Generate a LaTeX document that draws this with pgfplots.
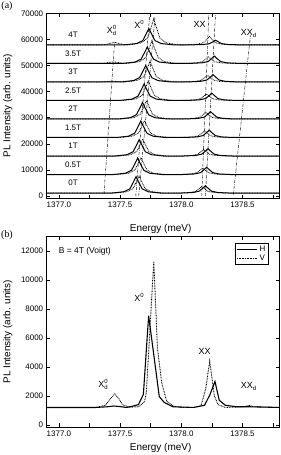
\documentclass[border=0pt]{standalone}
\usepackage{fontspec}
\setmainfont{Liberation Sans}
\newfontfamily\seriffont{Liberation Serif}
\usepackage{pgfplots}
\pgfplotsset{compat=1.18}
\newcommand\smallidx{\fontsize{6}{6}\selectfont}
\newcommand\Xd{X\rlap{\raisebox{3.8bp}{\smallidx 0}}\raisebox{-2.4bp}{\smallidx d}}
\newcommand\Xz{X\raisebox{3.8bp}{\smallidx 0}}
\newcommand\XXd{XX\raisebox{-2.4bp}{\smallidx d}}
\begin{document}
\begin{tikzpicture}[x=1bp,y=1bp]
\path[use as bounding box] (0,0) rectangle (280,455);
\pgfplotsset{
  common/.style={
    scale only axis, width=232.5bp,
    xmin=1376.9, xmax=1378.8,
    xtick={1377,1377.5,1378,1378.5},
    minor xtick={1377.25,1377.75,1378.25,1378.75},
    /pgf/number format/1000 sep={},
    /pgf/number format/assume math mode=true,
    xticklabel style={/pgf/number format/fixed,/pgf/number format/fixed zerofill,/pgf/number format/precision=1},
    scaled ticks=false,
    tick label style={font=\fontsize{8}{9}\selectfont},
    major tick length=3.5bp, minor tick length=3.5bp,
    tick style={black, line width=0.5pt},
    axis line style={line width=0.6pt},
    every axis y label/.style={at={(axis description cs:-0.167,0.5)}, rotate=90, anchor=center, font=\fontsize{10}{12}\selectfont},
    ylabel={PL Intensity (arb. units)},
    xlabel={Energy (meV)},
  },
  H/.style={black, line width=1.0pt},
  V/.style={black, line width=0.8pt, dash pattern=on 0.8pt off 0.8pt},
  G/.style={black, line width=0.45pt, dash pattern=on 3pt off 1.2pt on 0.5pt off 1.2pt},
}
% ---------------- (a) ----------------
\begin{axis}[common, at={(46.7bp,256.7bp)}, anchor=south west, height=185bp,
  ymin=-900, ymax=70000, ytick={0,10000,20000,30000,40000,50000,60000,70000},
  every axis x label/.style={at={(axis description cs:0.49,-0.166)}, anchor=center, font=\fontsize{10}{12}\selectfont}]
% H spectra
\addplot[H] coordinates {(1376.9,1100)(1377.43,1100)(1377.53,1600)(1377.58,2740)(1377.61,5450)(1377.63,7400)(1377.65,5450)(1377.68,2740)(1377.73,1600)(1377.83,1100)(1377.997,1100)(1378.097,1320)(1378.147,1830)(1378.177,3030)(1378.197,3900)(1378.217,3030)(1378.247,1830)(1378.297,1320)(1378.397,1100)(1378.8,1100)};
\addplot[H] coordinates {(1376.9,8200)(1377.443,8200)(1377.543,8700)(1377.593,9840)(1377.623,12550)(1377.643,14500)(1377.663,12550)(1377.693,9840)(1377.743,8700)(1377.843,8200)(1378.007,8200)(1378.107,8420)(1378.157,8930)(1378.187,10130)(1378.207,11000)(1378.227,10130)(1378.257,8930)(1378.307,8420)(1378.407,8200)(1378.8,8200)};
\addplot[H] coordinates {(1376.9,15300)(1377.456,15300)(1377.556,15800)(1377.606,16940)(1377.636,19650)(1377.656,21600)(1377.676,19650)(1377.706,16940)(1377.756,15800)(1377.856,15300)(1378.018,15300)(1378.118,15520)(1378.168,16030)(1378.198,17230)(1378.218,18100)(1378.238,17230)(1378.268,16030)(1378.318,15520)(1378.418,15300)(1378.8,15300)};
\addplot[H] coordinates {(1376.9,22400)(1377.469,22400)(1377.569,22900)(1377.619,24040)(1377.649,26750)(1377.669,28700)(1377.689,26750)(1377.719,24040)(1377.769,22900)(1377.869,22400)(1378.028,22400)(1378.128,22620)(1378.178,23130)(1378.208,24330)(1378.228,25200)(1378.248,24330)(1378.278,23130)(1378.328,22620)(1378.428,22400)(1378.8,22400)};
\addplot[H] coordinates {(1376.9,29500)(1377.483,29500)(1377.583,30000)(1377.633,31140)(1377.663,33850)(1377.683,35800)(1377.703,33850)(1377.733,31140)(1377.783,30000)(1377.883,29500)(1378.039,29500)(1378.139,29720)(1378.189,30230)(1378.219,31430)(1378.239,32300)(1378.259,31430)(1378.289,30230)(1378.339,29720)(1378.439,29500)(1378.8,29500)};
\addplot[H] coordinates {(1376.9,36600)(1377.496,36600)(1377.596,37100)(1377.646,38240)(1377.676,40950)(1377.696,42900)(1377.716,40950)(1377.746,38240)(1377.796,37100)(1377.896,36600)(1378.049,36600)(1378.149,36820)(1378.199,37330)(1378.229,38530)(1378.249,39400)(1378.269,38530)(1378.299,37330)(1378.349,36820)(1378.449,36600)(1378.8,36600)};
\addplot[H] coordinates {(1376.9,43700)(1377.509,43700)(1377.609,44200)(1377.659,45340)(1377.689,48050)(1377.709,50000)(1377.729,48050)(1377.759,45340)(1377.809,44200)(1377.909,43700)(1378.059,43700)(1378.159,43920)(1378.209,44430)(1378.239,45630)(1378.259,46500)(1378.279,45630)(1378.309,44430)(1378.359,43920)(1378.459,43700)(1378.8,43700)};
\addplot[H] coordinates {(1376.9,50800)(1377.522,50800)(1377.622,51300)(1377.672,52440)(1377.702,55150)(1377.722,57100)(1377.742,55150)(1377.772,52440)(1377.822,51300)(1377.922,50800)(1378.07,50800)(1378.17,51020)(1378.22,51530)(1378.25,52730)(1378.27,53600)(1378.29,52730)(1378.32,51530)(1378.37,51020)(1378.47,50800)(1378.8,50800)};
\addplot[H] coordinates {(1376.9,57900)(1377.535,57900)(1377.635,58400)(1377.685,59540)(1377.715,62250)(1377.735,64200)(1377.755,62250)(1377.785,59540)(1377.835,58400)(1377.935,57900)(1378.08,57900)(1378.18,58040)(1378.23,58370)(1378.26,59140)(1378.28,59700)(1378.30,59140)(1378.33,58370)(1378.38,58040)(1378.48,57900)(1378.8,57900)};
% V spectra
\addplot[V] coordinates {(1376.9,1100)(1377.455,1100)(1377.555,1620)(1377.605,2790)(1377.635,5590)(1377.655,7600)(1377.675,5590)(1377.705,2790)(1377.755,1620)(1377.855,1100)(1377.967,1100)(1378.067,1300)(1378.117,1750)(1378.147,2830)(1378.167,3600)(1378.187,2830)(1378.217,1750)(1378.267,1300)(1378.367,1100)(1378.8,1100)};
\addplot[V] coordinates {(1376.9,8200)(1377.47,8200)(1377.57,8720)(1377.62,9890)(1377.65,12690)(1377.67,14700)(1377.69,12690)(1377.72,9890)(1377.77,8720)(1377.87,8200)(1377.975,8200)(1378.075,8400)(1378.125,8850)(1378.155,9930)(1378.175,10700)(1378.195,9930)(1378.225,8850)(1378.275,8400)(1378.375,8200)(1378.8,8200)};
\addplot[V] coordinates {(1376.9,15300)(1377.485,15300)(1377.585,15820)(1377.635,16990)(1377.665,19790)(1377.685,21800)(1377.705,19790)(1377.735,16990)(1377.785,15820)(1377.885,15300)(1377.983,15300)(1378.083,15500)(1378.133,15950)(1378.163,17030)(1378.183,17800)(1378.203,17030)(1378.233,15950)(1378.283,15500)(1378.383,15300)(1378.8,15300)};
\addplot[V] coordinates {(1376.9,22400)(1377.5,22400)(1377.6,22920)(1377.65,24090)(1377.68,26890)(1377.7,28900)(1377.72,26890)(1377.75,24090)(1377.8,22920)(1377.9,22400)(1377.991,22400)(1378.091,22600)(1378.141,23050)(1378.171,24130)(1378.191,24900)(1378.211,24130)(1378.241,23050)(1378.291,22600)(1378.391,22400)(1378.8,22400)};
\addplot[V] coordinates {(1376.9,29500)(1377.515,29500)(1377.615,30060)(1377.665,31320)(1377.695,34330)(1377.715,36500)(1377.735,34330)(1377.765,31320)(1377.815,30060)(1377.915,29500)(1377.999,29500)(1378.099,29700)(1378.149,30150)(1378.179,31230)(1378.199,32000)(1378.219,31230)(1378.249,30150)(1378.299,29700)(1378.399,29500)(1378.8,29500)};
\addplot[V] coordinates {(1376.9,36600)(1377.53,36600)(1377.63,37200)(1377.68,38550)(1377.71,41780)(1377.73,44100)(1377.75,41780)(1377.78,38550)(1377.83,37200)(1377.93,36600)(1378.006,36600)(1378.106,36800)(1378.156,37250)(1378.186,38330)(1378.206,39100)(1378.226,38330)(1378.256,37250)(1378.306,36800)(1378.406,36600)(1378.8,36600)};
\addplot[V] coordinates {(1376.9,43700)(1377.334,43700)(1377.364,43745)(1377.399,43880)(1377.434,44000)(1377.469,43880)(1377.504,43745)(1377.534,43700)(1377.545,43700)(1377.645,44340)(1377.695,45780)(1377.725,49220)(1377.745,51700)(1377.765,49220)(1377.795,45780)(1377.845,44340)(1377.945,43700)(1378.014,43700)(1378.114,43900)(1378.164,44350)(1378.194,45430)(1378.214,46200)(1378.234,45430)(1378.264,44350)(1378.314,43900)(1378.414,43700)(1378.8,43700)};
\addplot[V] coordinates {(1376.9,50800)(1377.344,50800)(1377.374,50890)(1377.409,51160)(1377.444,51400)(1377.479,51160)(1377.514,50890)(1377.544,50800)(1377.56,50800)(1377.66,51500)(1377.71,53060)(1377.74,56800)(1377.76,59500)(1377.78,56800)(1377.81,53060)(1377.86,51500)(1377.96,50800)(1378.022,50800)(1378.122,51000)(1378.172,51450)(1378.202,52530)(1378.222,53300)(1378.242,52530)(1378.272,51450)(1378.322,51000)(1378.422,50800)(1378.8,50800)};
\addplot[V] coordinates {(1376.9,57900)(1377.355,57900)(1377.385,58040)(1377.42,58470)(1377.455,58850)(1377.49,58470)(1377.525,58040)(1377.555,57900)(1377.575,57900)(1377.675,58700)(1377.725,60500)(1377.755,64800)(1377.775,67900)(1377.795,64800)(1377.825,60500)(1377.875,58700)(1377.975,57900)(1378.03,57900)(1378.13,58160)(1378.18,58730)(1378.21,60110)(1378.23,61100)(1378.25,60110)(1378.28,58730)(1378.33,58160)(1378.43,57900)(1378.8,57900)};
% guide lines
\addplot[G] coordinates {(1377.368,700)(1377.455,59000)};
\addplot[G] coordinates {(1377.628,0)(1377.74,68500)};
\addplot[G] coordinates {(1377.652,0)(1377.785,68500)};
\addplot[G] coordinates {(1378.167,0)(1378.225,70000)};
\addplot[G] coordinates {(1378.197,0)(1378.28,70000)};
\addplot[G] coordinates {(1378.425,500)(1378.565,61500)};
% labels
\begin{scope}[every node/.style={font=\fontsize{8}{9}\selectfont, anchor=center}]
\node at (axis cs:1377.115,4900) {0T};
\node at (axis cs:1377.115,12000) {0.5T};
\node at (axis cs:1377.115,19100) {1T};
\node at (axis cs:1377.115,26200) {1.5T};
\node at (axis cs:1377.115,33300) {2T};
\node at (axis cs:1377.115,40400) {2.5T};
\node at (axis cs:1377.115,47500) {3T};
\node at (axis cs:1377.115,54600) {3.5T};
\node at (axis cs:1377.115,61700) {4T};
\end{scope}
\begin{scope}[every node/.style={font=\fontsize{9}{10}\selectfont, anchor=center}]
\node at (axis cs:1377.43,63300) {\Xd};
\node at (axis cs:1377.655,65800) {\Xz};
\node at (axis cs:1378.15,65600) {XX};
\node at (axis cs:1378.55,62300) {\XXd};
\end{scope}
\end{axis}
% ---------------- (b) ----------------
\begin{axis}[common, at={(46.7bp,28bp)}, anchor=south west, height=190.3bp,
  ymin=-150, ymax=13000, ytick={0,2000,4000,6000,8000,10000,12000},
  every axis x label/.style={at={(axis description cs:0.49,-0.112)}, anchor=center, font=\fontsize{10}{12}\selectfont},
  legend style={at={(axis description cs:0.953,0.965)}, anchor=north east, draw=black, line width=0.4pt, font=\fontsize{8}{9}\selectfont, inner sep=0.8pt, row sep=-2.5pt, cells={anchor=west}},
  legend image code/.code={\draw[#1] (0bp,0bp) -- (20bp,0bp);}]
\addplot[H, line width=1.1pt] coordinates {(1376.9,1200)(1377.3,1200)(1377.4,1250)(1377.45,1300)(1377.5,1260)(1377.55,1200)(1377.6,1280)(1377.65,1400)(1377.69,2100)(1377.733,7540)(1377.82,1950)(1377.86,1550)(1377.93,1250)(1378.1,1200)(1378.19,1350)(1378.235,2100)(1378.275,3000)(1378.31,1700)(1378.36,1350)(1378.45,1250)(1378.55,1250)(1378.8,1200)};
\addlegendentry{H}
\addplot[V, line width=0.9pt] coordinates {(1376.9,1200)(1377.3,1200)(1377.38,1350)(1377.42,1800)(1377.457,2140)(1377.49,1800)(1377.52,1380)(1377.58,1220)(1377.65,1250)(1377.70,1600)(1377.715,2300)(1377.775,11300)(1377.805,5300)(1377.84,2900)(1377.88,1650)(1377.93,1300)(1378.0,1200)(1378.1,1200)(1378.16,1300)(1378.2,2500)(1378.232,4400)(1378.27,2000)(1378.3,1400)(1378.36,1200)(1378.52,1250)(1378.555,1350)(1378.59,1250)(1378.8,1200)};
\addlegendentry{V}
\node[font=\fontsize{8.5}{10}\selectfont, anchor=west] at (axis cs:1376.97,12000) {B = 4T (Voigt)};
\begin{scope}[every node/.style={font=\fontsize{9}{10}\selectfont, anchor=center}]
\node at (axis cs:1377.655,8800) {\Xz};
\node at (axis cs:1377.36,2800) {\Xd};
\node at (axis cs:1378.19,5100) {XX};
\node at (axis cs:1378.55,2650) {\XXd};
\end{scope}
\end{axis}
\node[font=\seriffont\fontsize{10}{12}\selectfont] at (7,449) {(a)};
\node[font=\seriffont\fontsize{10}{12}\selectfont] at (7,220) {(b)};
\end{tikzpicture}
\end{document}
